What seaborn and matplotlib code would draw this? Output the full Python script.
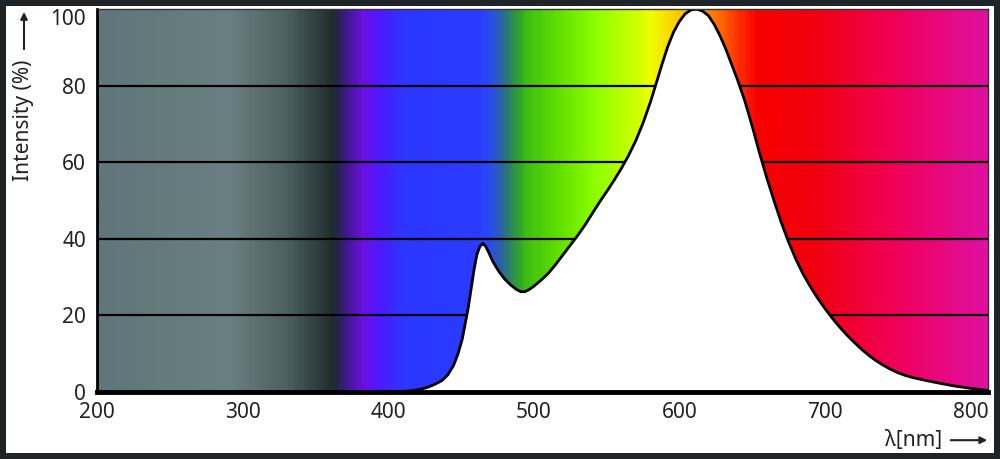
import numpy as np
import pandas as pd
import seaborn as sns
import matplotlib.pyplot as plt
from matplotlib.colors import LinearSegmentedColormap

# spectrum of the lamp
wavelength = [200, 300, 380, 406, 415, 422, 427, 432, 437, 441, 445, 448, 451, 453,
              455, 457, 459, 461, 463, 465, 467, 469, 472, 476, 480, 484, 488, 491,
              494, 497, 500, 505, 510, 515, 520, 525, 530, 535, 540, 545, 550, 555,
              560, 565, 570, 575, 580, 584, 588, 592, 596, 600, 604, 608, 612, 616,
              620, 624, 628, 632, 636, 640, 645, 650, 655, 660, 665, 670, 675, 680,
              685, 690, 695, 700, 705, 710, 715, 720, 725, 730, 735, 740, 745, 750,
              755, 760, 770, 780, 790, 800, 806, 812]
intensity = [0, 0, 0, 0, 0.3, 0.7, 1.2, 2, 3, 4.5, 7, 10, 14, 18,
             22, 27, 32, 36, 38, 38.8, 38, 36.5, 34, 31.5, 29.5, 28, 26.8, 26.2,
             26.2, 26.8, 27.6, 29.2, 31, 33.3, 35.8, 38.3, 40.8, 43.5, 46.5, 49.5, 52.3, 55.2,
             58.3, 61.7, 65.6, 70.2, 75.6, 80.5, 85.5, 90.2, 94, 96.8, 98.8, 99.8, 100, 99.5,
             98.3, 96, 93, 89.5, 85.5, 81.5, 76, 69.5, 62.5, 56, 50, 44.3, 39.2, 34.7,
             30.8, 27.5, 24.5, 21.8, 19.3, 17, 14.9, 13, 11.2, 9.6, 8.2, 7, 5.95, 5.05,
             4.35, 3.8, 2.95, 2.2, 1.5, 0.95, 0.65, 0.4]

x_ticks = [200, 300, 400, 500, 600, 700, 800]
y_ticks = [0, 20, 40, 60, 80, 100]

# background colour band (nm, colour)
band_nm = [200, 290, 330, 362, 369, 382, 393, 410, 462, 470, 479, 489, 496, 517, 544,
           572, 580, 600, 627, 641, 655, 696, 751, 812]
band_col = ["#61767a", "#6a7f81", "#4c5e60", "#1e2b2c", "#3a1a80", "#6a10e0", "#5018ff",
            "#2c36ff", "#2a3cff", "#2a4cf0", "#2a6a90", "#30a030", "#40c010", "#60e000",
            "#90ff00", "#d0ff00", "#f0ff00", "#ffc800", "#ff7000", "#ff3000", "#f80000",
            "#f00010", "#f0005a", "#e010a0"]

df = pd.DataFrame({"nm": wavelength, "I": intensity})

sns.set_theme(style="white")
plt.rcParams["font.family"] = ["Noto Sans", "DejaVu Sans"]

fig = plt.figure(figsize=(10, 4.59), dpi=100, facecolor="white",
                 edgecolor="#1e2427", linewidth=7.5)
ax = fig.add_axes([0.097, 0.146, 0.891, 0.834])

lo, hi = band_nm[0], band_nm[-1]
cmap = LinearSegmentedColormap.from_list(
    "spec", [((v - lo) / (hi - lo), c) for v, c in zip(band_nm, band_col)])
grad = np.linspace(0, 1, 600).reshape(1, -1)
ax.imshow(grad, cmap=cmap, aspect="auto", extent=[lo, hi, 0, 100], zorder=0)

for y in y_ticks[1:-1]:
    ax.axhline(y, color="black", lw=1.6, zorder=1)

ax.fill_between(df["nm"], 0, df["I"], color="white", zorder=2, lw=0)
sns.lineplot(data=df, x="nm", y="I", color="black", lw=2, ax=ax, zorder=3)

ax.set_xlim(lo, hi)
ax.set_ylim(0, 100)
ax.set_xticks(x_ticks)
ax.set_yticks(y_ticks)
ax.tick_params(labelsize=15, length=0, colors="#222222")
ax.tick_params(axis="y", pad=8)
ax.tick_params(axis="x", pad=7)
ax.get_yticklabels()[-1].set_verticalalignment("top")
ax.set_xlabel("")
ax.set_ylabel("")

for side in ["top", "right"]:
    ax.spines[side].set_linewidth(1)
    ax.spines[side].set_color("#333333")
ax.spines["left"].set_linewidth(2)
ax.spines["left"].set_color("black")
ax.spines["bottom"].set_linewidth(3.5)
ax.spines["bottom"].set_color("black")
for s in ax.spines.values():
    s.set_zorder(5)

fig.text(0.024, 0.738, "Intensity (%)", rotation=90, ha="center", va="center",
         fontsize=15, color="#222222")
ax.annotate("", xy=(0.024, 0.98), xytext=(0.024, 0.887), xycoords="figure fraction",
            arrowprops=dict(arrowstyle="-|>", color="#222222", lw=1.5,
                            mutation_scale=10))

fig.text(0.914, 0.041, "\u03bb[nm]", ha="center", va="center", fontsize=15,
         color="#222222")
ax.annotate("", xy=(0.99, 0.041), xytext=(0.948, 0.041), xycoords="figure fraction",
            arrowprops=dict(arrowstyle="-|>", color="#222222", lw=1.5,
                            mutation_scale=10))

fig.savefig("out.png", dpi=100, facecolor=fig.get_facecolor(),
            edgecolor=fig.get_edgecolor())
